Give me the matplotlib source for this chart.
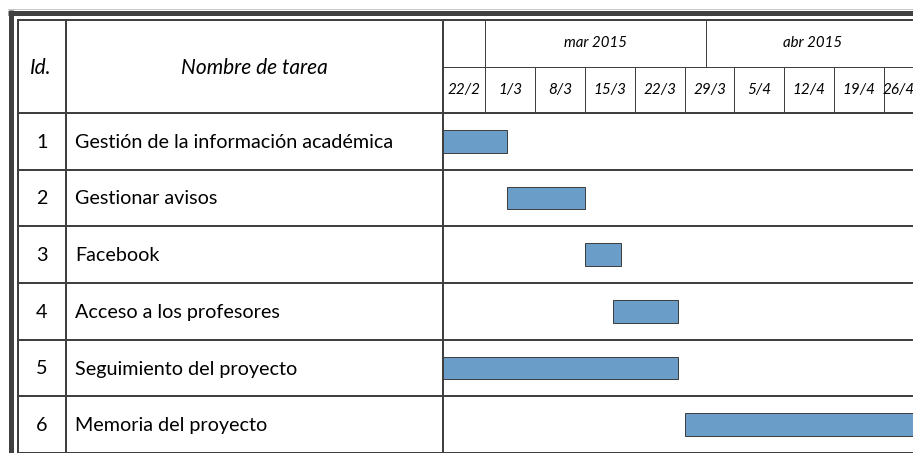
import matplotlib
matplotlib.use("Agg")
import matplotlib.pyplot as plt
import pandas as pd

ids = [1, 2, 3, 4, 5, 6]
tasks = [
    "Gestión de la información académica",
    "Gestionar avisos",
    "Facebook",
    "Acceso a los profesores",
    "Seguimiento del proyecto",
    "Memoria del proyecto",
]
starts = ["2015-02-23", "2015-03-04", "2015-03-15", "2015-03-19", "2015-02-23", "2015-03-29"]
ends = ["2015-03-04", "2015-03-15", "2015-03-20", "2015-03-28", "2015-03-28", "2015-05-20"]

week_starts = pd.date_range("2015-02-22", "2015-04-26", freq="7D")
month_labels = ["mar 2015", "abr 2015"]
month_starts = ["2015-03-01", "2015-04-01"]
month_ends = ["2015-04-01", "2015-05-01"]
view_start = pd.Timestamp("2015-02-23")
view_end = pd.Timestamp("2015-04-30 01:40")

W, H = 913, 453
LINE = "#404040"
BAR = "#6b9dc9"
PT = 0.72  # points per pixel at dpi 100

plt.rcParams["font.family"] = ["Lato", "DejaVu Sans"]

fig = plt.figure(figsize=(W / 100, H / 100), dpi=100)
bg = fig.add_axes([0, 0, 1, 1])
bg.set_xlim(0, W)
bg.set_ylim(H, 0)
bg.axis("off")

x_id, x_name, x_tl = 18, 65.5, 442.5
hdr_top, hdr_mid, hdr_bot = 20, 68, 113
row_h = (H - hdr_bot) / len(tasks)

# frame
bg.plot([8, W], [8.5, 8.5], color="#c8c8c8", lw=1 * PT)
bg.plot([10.5, 10.5], [10, H], color=LINE, lw=5 * PT, solid_capstyle="butt")
bg.plot([8, W], [12.5, 12.5], color=LINE, lw=5 * PT, solid_capstyle="butt")
bg.plot([x_id, x_id], [hdr_top, H], color=LINE, lw=2 * PT)
bg.plot([x_id, W], [hdr_top, hdr_top], color=LINE, lw=2 * PT)
for x in (x_name, x_tl):
    bg.plot([x, x], [hdr_top, H], color=LINE, lw=2 * PT)
for k in range(len(tasks) + 1):
    y = hdr_bot + k * row_h
    bg.plot([x_id, W], [y, y], color=LINE, lw=2 * PT)

bg.text((x_id + x_name) / 2 - 1, 68, "Id.", style="italic", fontsize=15, ha="center", va="center")
bg.text((x_name + x_tl) / 2, 68, "Nombre de tarea", style="italic", fontsize=15, ha="center", va="center")
for k, (i, name) in enumerate(zip(ids, tasks)):
    yc = hdr_bot + (k + 0.5) * row_h
    bg.text((x_id + x_name) / 2, yc + 1, str(i), fontsize=14.2, ha="center", va="center")
    bg.text(75, yc + 1, name, fontsize=14.2, ha="left", va="center")

# timeline header
head = fig.add_axes([x_tl / W, 1 - hdr_bot / H, 1 - x_tl / W, (hdr_bot - hdr_top) / H])
head.set_xlim(view_start, view_end)
head.set_ylim(2, 0)
head.axis("off")
head.axhline(1, color=LINE, lw=1 * PT)
head.vlines(pd.to_datetime(month_starts), 0, 1, color=LINE, lw=1 * PT)
head.vlines(week_starts[1:], 1, 2, color=LINE, lw=1 * PT)
for lab, s, e in zip(month_labels, pd.to_datetime(month_starts), pd.to_datetime(month_ends)):
    head.text(s + (e - s) / 2, 0.5, lab, style="italic", fontsize=10.8, ha="center", va="center")
for s in week_starts:
    a = max(s, view_start)
    b = min(s + pd.Timedelta(days=7), view_end)
    head.text(a + (b - a) / 2, 1.5, f"{s.day}/{s.month}", style="italic", fontsize=11,
              ha="center", va="center", clip_on=False)

# gantt body
body = fig.add_axes([x_tl / W, 0, 1 - x_tl / W, 1 - hdr_bot / H])
body.set_xlim(view_start, view_end)
body.set_ylim(len(tasks), 0)
body.axis("off")
s_dt = pd.to_datetime(starts)
e_dt = pd.to_datetime(ends)
body.barh([k + 0.5 for k in range(len(tasks))], e_dt - s_dt, left=s_dt, height=0.4,
          color=BAR, edgecolor=LINE, linewidth=1 * PT)

fig.savefig("out.png", dpi=100)
